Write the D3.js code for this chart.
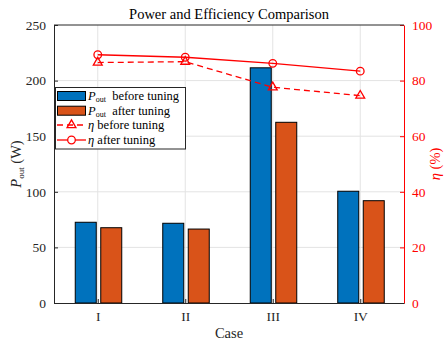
<!DOCTYPE html>
<html>
<head>
<meta charset="utf-8">
<script src="https://cdn.jsdelivr.net/npm/d3@7"></script>
<style>
  html, body { margin: 0; padding: 0; background: #fff; }
  svg { display: block; font-family: "Liberation Serif", "DejaVu Serif", serif; }
</style>
</head>
<body>
<svg id="chart" width="448" height="341"></svg>
<script>
// Chart data
const cases = ["I", "II", "III", "IV"];
const poutBefore = [72.6, 71.7, 211.5, 100.5];
const poutAfter = [67.7, 66.5, 162.5, 92];
const etaBefore = [86.5, 86.8, 77.6, 74.6];
const etaAfter = [89.3, 88.4, 86.2, 83.4];
const leftTicks = [0, 50, 100, 150, 200, 250];
const rightTicks = [0, 20, 40, 60, 80, 100];
const legendLabels = ["before tuning", "after tuning", "before tuning", "after tuning"];

const svg = d3.select("#chart");
const m = { left: 54, right: 404, top: 25, bottom: 303 };
const blue = "#0072BD", orange = "#D95319", red = "#FF0000";

const x = d3.scaleLinear().domain([0.5, cases.length + 0.5]).range([m.left, m.right]);
const yL = d3.scaleLinear().domain([0, 250]).range([m.bottom, m.top]);
const yR = d3.scaleLinear().domain([0, 100]).range([m.bottom, m.top]);

// grid
const grid = svg.append("g").attr("stroke", "#e3e3e3").attr("stroke-width", 1);
grid.selectAll(".gy").data(leftTicks.slice(1, -1)).join("line")
  .attr("x1", m.left).attr("x2", m.right)
  .attr("y1", d => yL(d)).attr("y2", d => yL(d));
grid.selectAll(".gx").data(cases).join("line")
  .attr("x1", (d, i) => x(i + 1)).attr("x2", (d, i) => x(i + 1))
  .attr("y1", m.top).attr("y2", m.bottom);

// bars
const bw = 21;
const bars = svg.append("g");
bars.selectAll(".b1").data(poutBefore).join("rect")
  .attr("x", (d, i) => x(i + 1) - 22.5).attr("width", bw)
  .attr("y", d => yL(d)).attr("height", d => yL(0) - yL(d))
  .attr("fill", blue).attr("stroke", "#000").attr("stroke-width", 1);
bars.selectAll(".b2").data(poutAfter).join("rect")
  .attr("x", (d, i) => x(i + 1) + 3).attr("width", bw)
  .attr("y", d => yL(d)).attr("height", d => yL(0) - yL(d))
  .attr("fill", orange).attr("stroke", "#000").attr("stroke-width", 1);

// axes
const axL = d3.axisLeft(yL).tickValues(leftTicks).tickSizeInner(-4).tickSizeOuter(0).tickPadding(8);
const gL = svg.append("g").attr("transform", `translate(${m.left},0)`).call(axL);
gL.select(".domain").attr("stroke", "#262626");
gL.selectAll(".tick line").attr("stroke", "#262626");
gL.selectAll("text").attr("font-size", 13.5).attr("fill", "#262626").attr("font-family", "Liberation Serif");

const axR = d3.axisRight(yR).tickValues(rightTicks).tickSizeInner(-4).tickSizeOuter(0).tickPadding(8);
const gR = svg.append("g").attr("transform", `translate(${m.right},0)`).call(axR);
gR.select(".domain").attr("stroke", red);
gR.selectAll(".tick line").attr("stroke", red);
gR.selectAll("text").attr("font-size", 13.5).attr("fill", red).attr("font-family", "Liberation Serif");

const axB = d3.axisBottom(x).tickValues(cases.map((d, i) => i + 1)).tickFormat((d, i) => cases[i])
  .tickSizeInner(-4).tickSizeOuter(0).tickPadding(8);
const gB = svg.append("g").attr("transform", `translate(0,${m.bottom})`).call(axB);
gB.select(".domain").attr("stroke", "#262626");
gB.selectAll(".tick line").attr("stroke", "#262626");
gB.selectAll("text").attr("font-size", 13.5).attr("fill", "#262626").attr("font-family", "Liberation Serif");

// top border
svg.append("line").attr("x1", m.left).attr("x2", m.right).attr("y1", m.top).attr("y2", m.top)
  .attr("stroke", "#262626").attr("stroke-width", 1);

// efficiency lines
const line = d3.line().x((d, i) => x(i + 1)).y(d => yR(d));
svg.append("path").datum(etaBefore).attr("d", line)
  .attr("fill", "none").attr("stroke", red).attr("stroke-width", 1.3).attr("stroke-dasharray", "6,4");
svg.append("path").datum(etaAfter).attr("d", line)
  .attr("fill", "none").attr("stroke", red).attr("stroke-width", 1.3);

const tri = d3.symbol().type(d3.symbolTriangle).size(34);
svg.append("g").selectAll("path").data(etaBefore).join("path")
  .attr("d", tri)
  .attr("transform", (d, i) => `translate(${x(i + 1)},${yR(d)})`)
  .attr("fill", "none").attr("stroke", red).attr("stroke-width", 1.3);
svg.append("g").selectAll("circle").data(etaAfter).join("circle")
  .attr("cx", (d, i) => x(i + 1)).attr("cy", d => yR(d)).attr("r", 3.8)
  .attr("fill", "none").attr("stroke", red).attr("stroke-width", 1.3);

// title and axis labels
svg.append("text").attr("x", (m.left + m.right) / 2).attr("y", 19).attr("text-anchor", "middle")
  .attr("font-size", 14.5).attr("fill", "#000").text("Power and Efficiency Comparison");
svg.append("text").attr("x", (m.left + m.right) / 2).attr("y", 338).attr("text-anchor", "middle")
  .attr("font-size", 14.5).attr("fill", "#262626").text("Case");

const yl = svg.append("text").attr("transform", `translate(21,${(m.top + m.bottom) / 2}) rotate(-90)`)
  .attr("text-anchor", "middle").attr("font-size", 14.5).attr("fill", "#262626");
yl.append("tspan").attr("font-style", "italic").text("P");
yl.append("tspan").attr("font-size", 9).attr("dy", 3).text("out");
yl.append("tspan").attr("dy", -3).text("\u00a0(W)");

const yr = svg.append("text").attr("transform", `translate(440,${(m.top + m.bottom) / 2}) rotate(-90)`)
  .attr("text-anchor", "middle").attr("font-size", 14.5).attr("fill", red);
yr.append("tspan").attr("font-style", "italic").text("η");
yr.append("tspan").text(" (%)");

// legend
const lg = svg.append("g");
lg.append("rect").attr("x", 55.5).attr("y", 87.5).attr("width", 130).attr("height", 61.5)
  .attr("fill", "#fff").attr("stroke", "#262626").attr("stroke-width", 1);
const rowY = [96, 110.7, 125, 140];
[blue, orange].forEach((c, i) => {
  lg.append("rect").attr("x", 57.5).attr("y", rowY[i] - 4.5).attr("width", 28).attr("height", 9)
    .attr("fill", c).attr("stroke", "#000").attr("stroke-width", 1);
});
lg.append("line").attr("x1", 57).attr("x2", 86).attr("y1", rowY[2]).attr("y2", rowY[2])
  .attr("stroke", red).attr("stroke-width", 1.3).attr("stroke-dasharray", "6,4");
lg.append("path").attr("d", tri).attr("transform", `translate(71.5,${rowY[2]})`)
  .attr("fill", "none").attr("stroke", red).attr("stroke-width", 1.3);
lg.append("line").attr("x1", 57).attr("x2", 86).attr("y1", rowY[3]).attr("y2", rowY[3])
  .attr("stroke", red).attr("stroke-width", 1.3);
lg.append("circle").attr("cx", 71.5).attr("cy", rowY[3]).attr("r", 3.8)
  .attr("fill", "#fff").attr("stroke", red).attr("stroke-width", 1.3);

legendLabels.forEach((lab, i) => {
  const t = lg.append("text").attr("x", 88).attr("y", rowY[i] + 4).attr("font-size", 12.5).attr("fill", "#000");
  if (i < 2) {
    t.append("tspan").attr("font-style", "italic").text("P");
    t.append("tspan").attr("font-size", 8).attr("dy", 2).text("out");
    t.append("tspan").attr("dy", -2).text("\u00a0\u00a0" + lab);
  } else {
    t.append("tspan").attr("font-style", "italic").text("η");
    t.append("tspan").text(" " + lab);
  }
});
</script>
</body>
</html>
